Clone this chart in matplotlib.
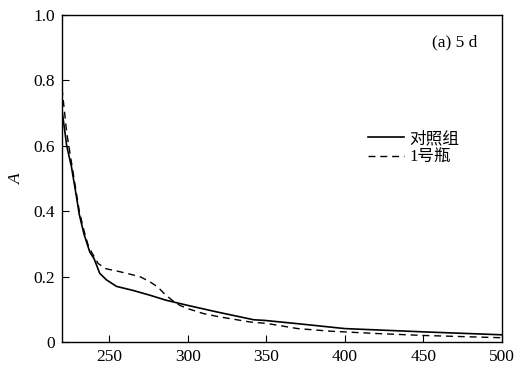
import matplotlib
matplotlib.use("Agg")
import matplotlib.pyplot as plt

plt.rcParams['font.family'] = ['Liberation Serif', 'Noto Sans CJK SC']

x_ctrl = [220, 223, 226, 229, 231, 234, 237.7, 240.4, 244, 248.3, 254.7, 265, 276, 286, 300, 318.5, 342, 349, 370, 400, 450, 500]
y_ctrl = [0.709, 0.60, 0.536, 0.45, 0.39, 0.33, 0.275, 0.255, 0.21, 0.19, 0.17, 0.158, 0.143, 0.128, 0.112, 0.092, 0.068, 0.066, 0.056, 0.041, 0.031, 0.022]

x_b1 = [220, 223, 226, 229, 231, 234, 237, 240, 243, 248, 255, 262, 270, 276, 281, 285, 290, 295, 300, 310, 320, 340, 350, 370, 391, 420, 450, 500]
y_b1 = [0.776, 0.64, 0.55, 0.46, 0.40, 0.34, 0.29, 0.265, 0.24, 0.224, 0.217, 0.209, 0.199, 0.184, 0.168, 0.148, 0.128, 0.112, 0.102, 0.087, 0.077, 0.061, 0.057, 0.041, 0.033, 0.026, 0.020, 0.013]

labels = ['对照组', '1号瓶']

fig = plt.figure(figsize=(5.3, 3.7), dpi=100)
ax = fig.add_axes([62/530, 1-342/370, 440/530, 327/370])
ax.plot(x_ctrl, y_ctrl, color='black', lw=1.2, ls='-', label=labels[0])
ax.plot(x_b1, y_b1, color='black', lw=1.0, ls=(0, (5, 3.5)), label=labels[1])
ax.set_xlim(220, 500)
ax.set_ylim(0, 1.0)
ax.set_xticks([250, 300, 350, 400, 450, 500])
ax.set_yticks([0, 0.2, 0.4, 0.6, 0.8, 1.0])
ax.set_yticklabels(['0', '0.2', '0.4', '0.6', '0.8', '1.0'])
ax.tick_params(direction='in', length=5, width=0.8, labelsize=12.5, top=False, right=False, pad=5)
for s in ax.spines.values():
    s.set_linewidth(1.0)
ax.set_ylabel('A', fontstyle='italic', fontsize=12.5, labelpad=6)
ax.text(0.945, 0.915, '(a) 5 d', transform=ax.transAxes, ha='right', va='center', fontsize=12.5)
leg = ax.legend(loc='upper left', bbox_to_anchor=(0.695, 0.645), frameon=False, fontsize=12,
                handlelength=2.2, handletextpad=0.3, labelspacing=0.15, borderpad=0, borderaxespad=0)
fig.savefig('out.png', dpi=100)
